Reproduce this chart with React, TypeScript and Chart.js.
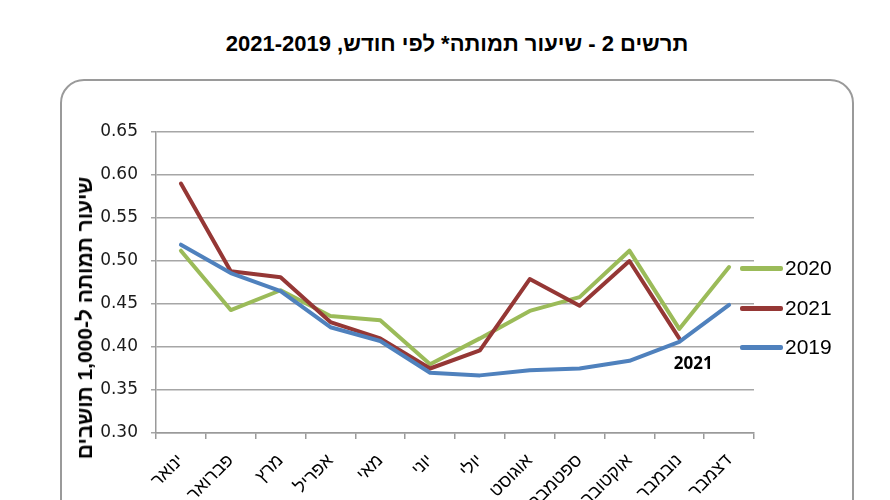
import { useEffect, useRef } from 'react'
import { Chart, registerables } from 'chart.js'

Chart.register(...registerables)

const months = ['ינואר', 'פברואר', 'מרץ', 'אפריל', 'מאי', 'יוני', 'יולי', 'אוגוסט', 'ספטמבר', 'אוקטובר', 'נובמבר', 'דצמבר']
const rate2020 = [0.512, 0.443, 0.466, 0.436, 0.431, 0.38, 0.41, 0.442, 0.458, 0.512, 0.421, 0.493]
const rate2021 = [0.59, 0.488, 0.481, 0.429, 0.41, 0.375, 0.396, 0.479, 0.448, 0.5, 0.41, null]
const rate2019 = [0.519, 0.486, 0.465, 0.423, 0.407, 0.37, 0.367, 0.373, 0.375, 0.384, 0.406, 0.449]
const yMin = 0.3
const yMax = 0.65
const yStep = 0.05

const GREEN = '#9bbb59'
const RED = '#953735'
const BLUE = '#4f81bd'

// legend order as in the original (right side)
const legendItems = [
  { label: '2020', color: GREEN, y: 268 },
  { label: '2021', color: RED, y: 308 },
  { label: '2019', color: BLUE, y: 347 },
]

// bold "2021" tag under the November point of the 2021 line
const pointTag = {
  id: 'pointTag',
  afterDatasetsDraw(chart: Chart) {
    const meta = chart.getDatasetMeta(1)
    const pt = meta.data[10]
    if (!pt) return
    const { ctx } = chart
    ctx.save()
    ctx.font = 'bold 17px "Open Sans", "Liberation Sans", sans-serif'
    ctx.fillStyle = '#000'
    ctx.textAlign = 'center'
    ctx.textBaseline = 'middle'
    ctx.fillText('2021', pt.x + 14, pt.y + 26)
    ctx.restore()
  },
}

export default function App() {
  const canvasRef = useRef<HTMLCanvasElement>(null)

  useEffect(() => {
    if (!canvasRef.current) return
    const chart = new Chart(canvasRef.current, {
      type: 'line',
      data: {
        labels: months,
        datasets: [
          { label: '2019', data: rate2019, borderColor: BLUE },
          { label: '2021', data: rate2021, borderColor: RED },
          { label: '2020', data: rate2020, borderColor: GREEN },
        ].map((d) => ({
          ...d,
          borderWidth: 4,
          pointRadius: 0,
          tension: 0,
          borderJoinStyle: 'round' as const,
          borderCapStyle: 'round' as const,
          fill: false,
        })),
      },
      options: {
        responsive: false,
        animation: false,
        layout: { padding: { left: 100, right: 136, top: 132, bottom: 0 } },
        plugins: {
          legend: { display: false },
          tooltip: { enabled: false },
        },
        scales: {
          x: {
            offset: true,
            afterFit: (scale) => { scale.height = 67 },
            grid: { drawOnChartArea: false, offset: true, tickLength: 6, color: '#9a9a9a', lineWidth: 1.5 },
            border: { color: '#9a9a9a', width: 1.5 },
            ticks: {
              autoSkip: false,
              minRotation: 45,
              maxRotation: 45,
              padding: 11,
              color: '#000',
              font: { family: '"Liberation Sans", Arial, sans-serif', size: 18 },
            },
          },
          y: {
            min: yMin,
            max: yMax,
            afterFit: (scale) => { scale.width = 56 },
            grid: { color: '#a6a6a6', lineWidth: 1.5, tickLength: 5 },
            border: { color: '#9a9a9a', width: 1.5 },
            ticks: {
              stepSize: yStep,
              padding: 13,
              color: '#1a1a1a',
              font: { family: '"DejaVu Sans", sans-serif', size: 17 },
              callback: (v) => Number(v).toFixed(2),
            },
          },
        },
      },
      plugins: [pointTag],
    })
    return () => chart.destroy()
  }, [])

  return (
    <div style={{ position: 'fixed', left: 0, top: 0, width: 890, height: 500, background: '#fff', overflow: 'hidden', fontFamily: '"Liberation Sans", Arial, sans-serif' }}>
      <div style={{ position: 'absolute', left: 457, top: 33, transform: 'translateX(-50%)', whiteSpace: 'nowrap', direction: 'rtl', fontWeight: 'bold', fontSize: 22, lineHeight: '22px', color: '#000' }}>
        תרשים 2 - שיעור תמותה* לפי חודש, 2021-2019
      </div>
      <div style={{ position: 'absolute', left: 60, top: 79, width: 794, height: 470, border: '2px solid #9a9a9a', borderRadius: 24, boxSizing: 'border-box' }} />
      <canvas ref={canvasRef} width={890} height={500} style={{ position: 'absolute', left: 0, top: 0, width: 890, height: 500 }} />
      <div style={{ position: 'absolute', left: 85, top: 318, transform: 'translate(-50%, -50%) rotate(-90deg)', whiteSpace: 'nowrap', direction: 'rtl', fontWeight: 'bold', fontSize: 21, color: '#000' }}>
        שיעור תמותה ל-1,000 תושבים
      </div>
      {legendItems.map((item) => (
        <div key={item.label} style={{ position: 'absolute', left: 740, top: item.y - 12, height: 24, display: 'flex', alignItems: 'center' }}>
          <div style={{ width: 43, height: 5, borderRadius: 2, background: item.color }} />
          <span style={{ marginLeft: 2, fontSize: 21, lineHeight: '24px', color: '#000' }}>{item.label}</span>
        </div>
      ))}
    </div>
  )
}
